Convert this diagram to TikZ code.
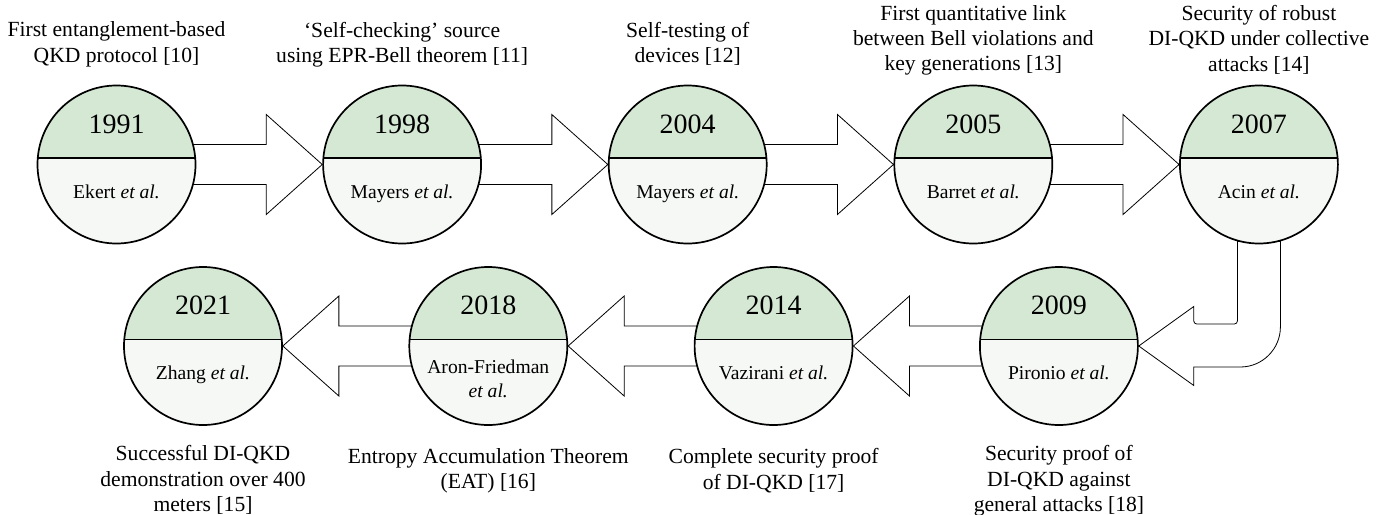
\documentclass[tikz,border=0pt]{standalone}
\usepackage{fontspec}
\setmainfont{Liberation Serif}
\usetikzlibrary{calc}
\usetikzlibrary{backgrounds}

\definecolor{yeargreen}{RGB}{213,232,212}
\definecolor{namegrey}{RGB}{246,248,245}

\begin{document}
\begin{tikzpicture}[x=0.5pt, y=-0.5pt, line width=0.85pt,
        year_node_style/.style={circle,draw=black,fill=namegrey,minimum size=79pt,inner sep=0pt,
            path picture={
                \fill[yeargreen] ([yshift=3.25pt]path picture bounding box.west) rectangle (path picture bounding box.north east);
                \draw[line width=0.85pt] ([yshift=3.25pt]path picture bounding box.west) -- ([yshift=3.25pt]path picture bounding box.east);
            }},
        year_style/.style={font=\fontsize{14}{16}\selectfont,inner sep=0pt,anchor=base},
        name_style/.style={font=\fontsize{9.8}{11.8}\selectfont,inner sep=0pt,anchor=base},
        caption_style/.style={font=\fontsize{10.8}{12.6}\selectfont,align=center,inner sep=0pt,anchor=north},
        right_arrow_style/.style={draw=black,fill=white,
            to path={($(\tikztostart.center)+(0,-20)$) -- ($(\tikztotarget.west)+(-56,-20)$)
                -- ($(\tikztotarget.west)+(-56,-50)$) -- (\tikztotarget.west)
                -- ($(\tikztotarget.west)+(-56,50)$) -- ($(\tikztotarget.west)+(-56,20)$)
                -- ($(\tikztostart.center)+(0,20)$) -- cycle}},
        left_arrow_style/.style={draw=black,fill=white,
            to path={($(\tikztostart.center)+(0,-20)$) -- ($(\tikztotarget.east)+(56,-20)$)
                -- ($(\tikztotarget.east)+(56,-50)$) -- (\tikztotarget.east)
                -- ($(\tikztotarget.east)+(56,50)$) -- ($(\tikztotarget.east)+(56,20)$)
                -- ($(\tikztostart.center)+(0,20)$) -- cycle}},
        turn_arrow_style/.style={draw=black,fill=white}]

        \useasboundingbox (0,0) rectangle (1397,514);

        % first row
        \node [year_node_style](c1991) at (116.5,164.5) {};
        \node [year_node_style](c1998) at (402.1,164.5) {};
        \node [year_node_style](c2004) at (687.7,164.5) {};
        \node [year_node_style](c2005) at (973.3,164.5) {};
        \node [year_node_style](c2007) at (1258.9,164.5) {};
        % second row
        \node [year_node_style](c2009) at (1058.9,346) {};
        \node [year_node_style](c2014) at (773.6,346) {};
        \node [year_node_style](c2018) at (488.3,346) {};
        \node [year_node_style](c2021) at (203,346) {};

        \node [year_style](y1991) at ($(c1991)+(0,-31.5)$) {1991};
        \node [year_style](y1998) at ($(c1998)+(0,-31.5)$) {1998};
        \node [year_style](y2004) at ($(c2004)+(0,-31.5)$) {2004};
        \node [year_style](y2005) at ($(c2005)+(0,-31.5)$) {2005};
        \node [year_style](y2007) at ($(c2007)+(0,-31.5)$) {2007};
        \node [year_style](y2009) at ($(c2009)+(0,-31.5)$) {2009};
        \node [year_style](y2014) at ($(c2014)+(0,-31.5)$) {2014};
        \node [year_style](y2018) at ($(c2018)+(0,-31.5)$) {2018};
        \node [year_style](y2021) at ($(c2021)+(0,-31.5)$) {2021};

        \node [name_style](a1991) at ($(c1991)+(0,33.5)$) {Ekert \textit{et al.}};
        \node [name_style](a1998) at ($(c1998)+(0,33.5)$) {Mayers \textit{et al.}};
        \node [name_style](a2004) at ($(c2004)+(0,33.5)$) {Mayers \textit{et al.}};
        \node [name_style](a2005) at ($(c2005)+(0,33.5)$) {Barret \textit{et al.}};
        \node [name_style](a2007) at ($(c2007)+(0,33.5)$) {Acin \textit{et al.}};
        \node [name_style](a2009) at ($(c2009)+(0,33.5)$) {Pironio \textit{et al.}};
        \node [name_style](a2014) at ($(c2014)+(0,33.5)$) {Vazirani \textit{et al.}};
        \node [name_style,align=center,anchor=north](a2018) at ($(c2018)+(0,13.5)$) {Aron-Friedman\\\textit{et al.}};
        \node [name_style](a2021) at ($(c2021)+(0,33.5)$) {Zhang \textit{et al.}};

        % captions
        \node [caption_style](t1991) at ($(c1991.north)+(0,-63.5)$) {First entanglement-based\\QKD protocol [10]};
        \node [caption_style](t1998) at ($(c1998.north)+(0,-63.5)$) {‘Self-checking’ source\\using EPR-Bell theorem [11]};
        \node [caption_style](t2004) at ($(c2004.north)+(0,-63.5)$) {Self-testing of\\devices [12]};
        \node [caption_style](t2005) at ($(c2005.north)+(0,-80)$) {First quantitative link\\between Bell violations and\\key generations [13]};
        \node [caption_style](t2007) at ($(c2007.north)+(0,-80)$) {Security of robust\\DI-QKD under collective\\attacks [14]};
        \node [caption_style](t2009) at ($(c2009.south)+(0,19)$) {Security proof of\\DI-QKD against\\general attacks [18]};
        \node [caption_style](t2014) at ($(c2014.south)+(0,22)$) {Complete security proof\\of DI-QKD [17]};
        \node [caption_style](t2018) at ($(c2018.south)+(0,22)$) {Entropy Accumulation Theorem\\(EAT) [16]};
        \node [caption_style](t2021) at ($(c2021.south)+(0,19)$) {Successful DI-QKD\\demonstration over 400\\meters [15]};

        \begin{pgfonlayer}{background}
        \draw [right_arrow_style] (c1991) to (c1998);
        \draw [right_arrow_style] (c1998) to (c2004);
        \draw [right_arrow_style] (c2004) to (c2005);
        \draw [right_arrow_style] (c2005) to (c2007);
        % turn from 2007 down to 2009
        \draw [turn_arrow_style] ($(c2007.south)+(-21.5,-3)$) [rounded corners=1.5pt] |- ($(c2009.east)+(55,-22)$)
            [sharp corners] -- ($(c2009.east)+(55,-39.5)$) -- (c2009.east) -- ($(c2009.east)+(55,39.5)$)
            -- ($(c2009.east)+(55,21)$) -- ($(c2007.south |- c2009.east)+(-18.5,21)$)
            .. controls ($(c2007.south |- c2009.east)+(3.5,21)$) and ($(c2007.south |- c2009.east)+(21.5,3)$) .. ($(c2007.south |- c2009.east)+(21.5,-19)$)
            -- ($(c2007.south)+(21.5,-3)$) -- cycle;
        \draw [left_arrow_style] (c2009) to (c2014);
        \draw [left_arrow_style] (c2014) to (c2018);
        \draw [left_arrow_style] (c2018) to (c2021);
        \end{pgfonlayer}
        \end{tikzpicture}
\end{document}
